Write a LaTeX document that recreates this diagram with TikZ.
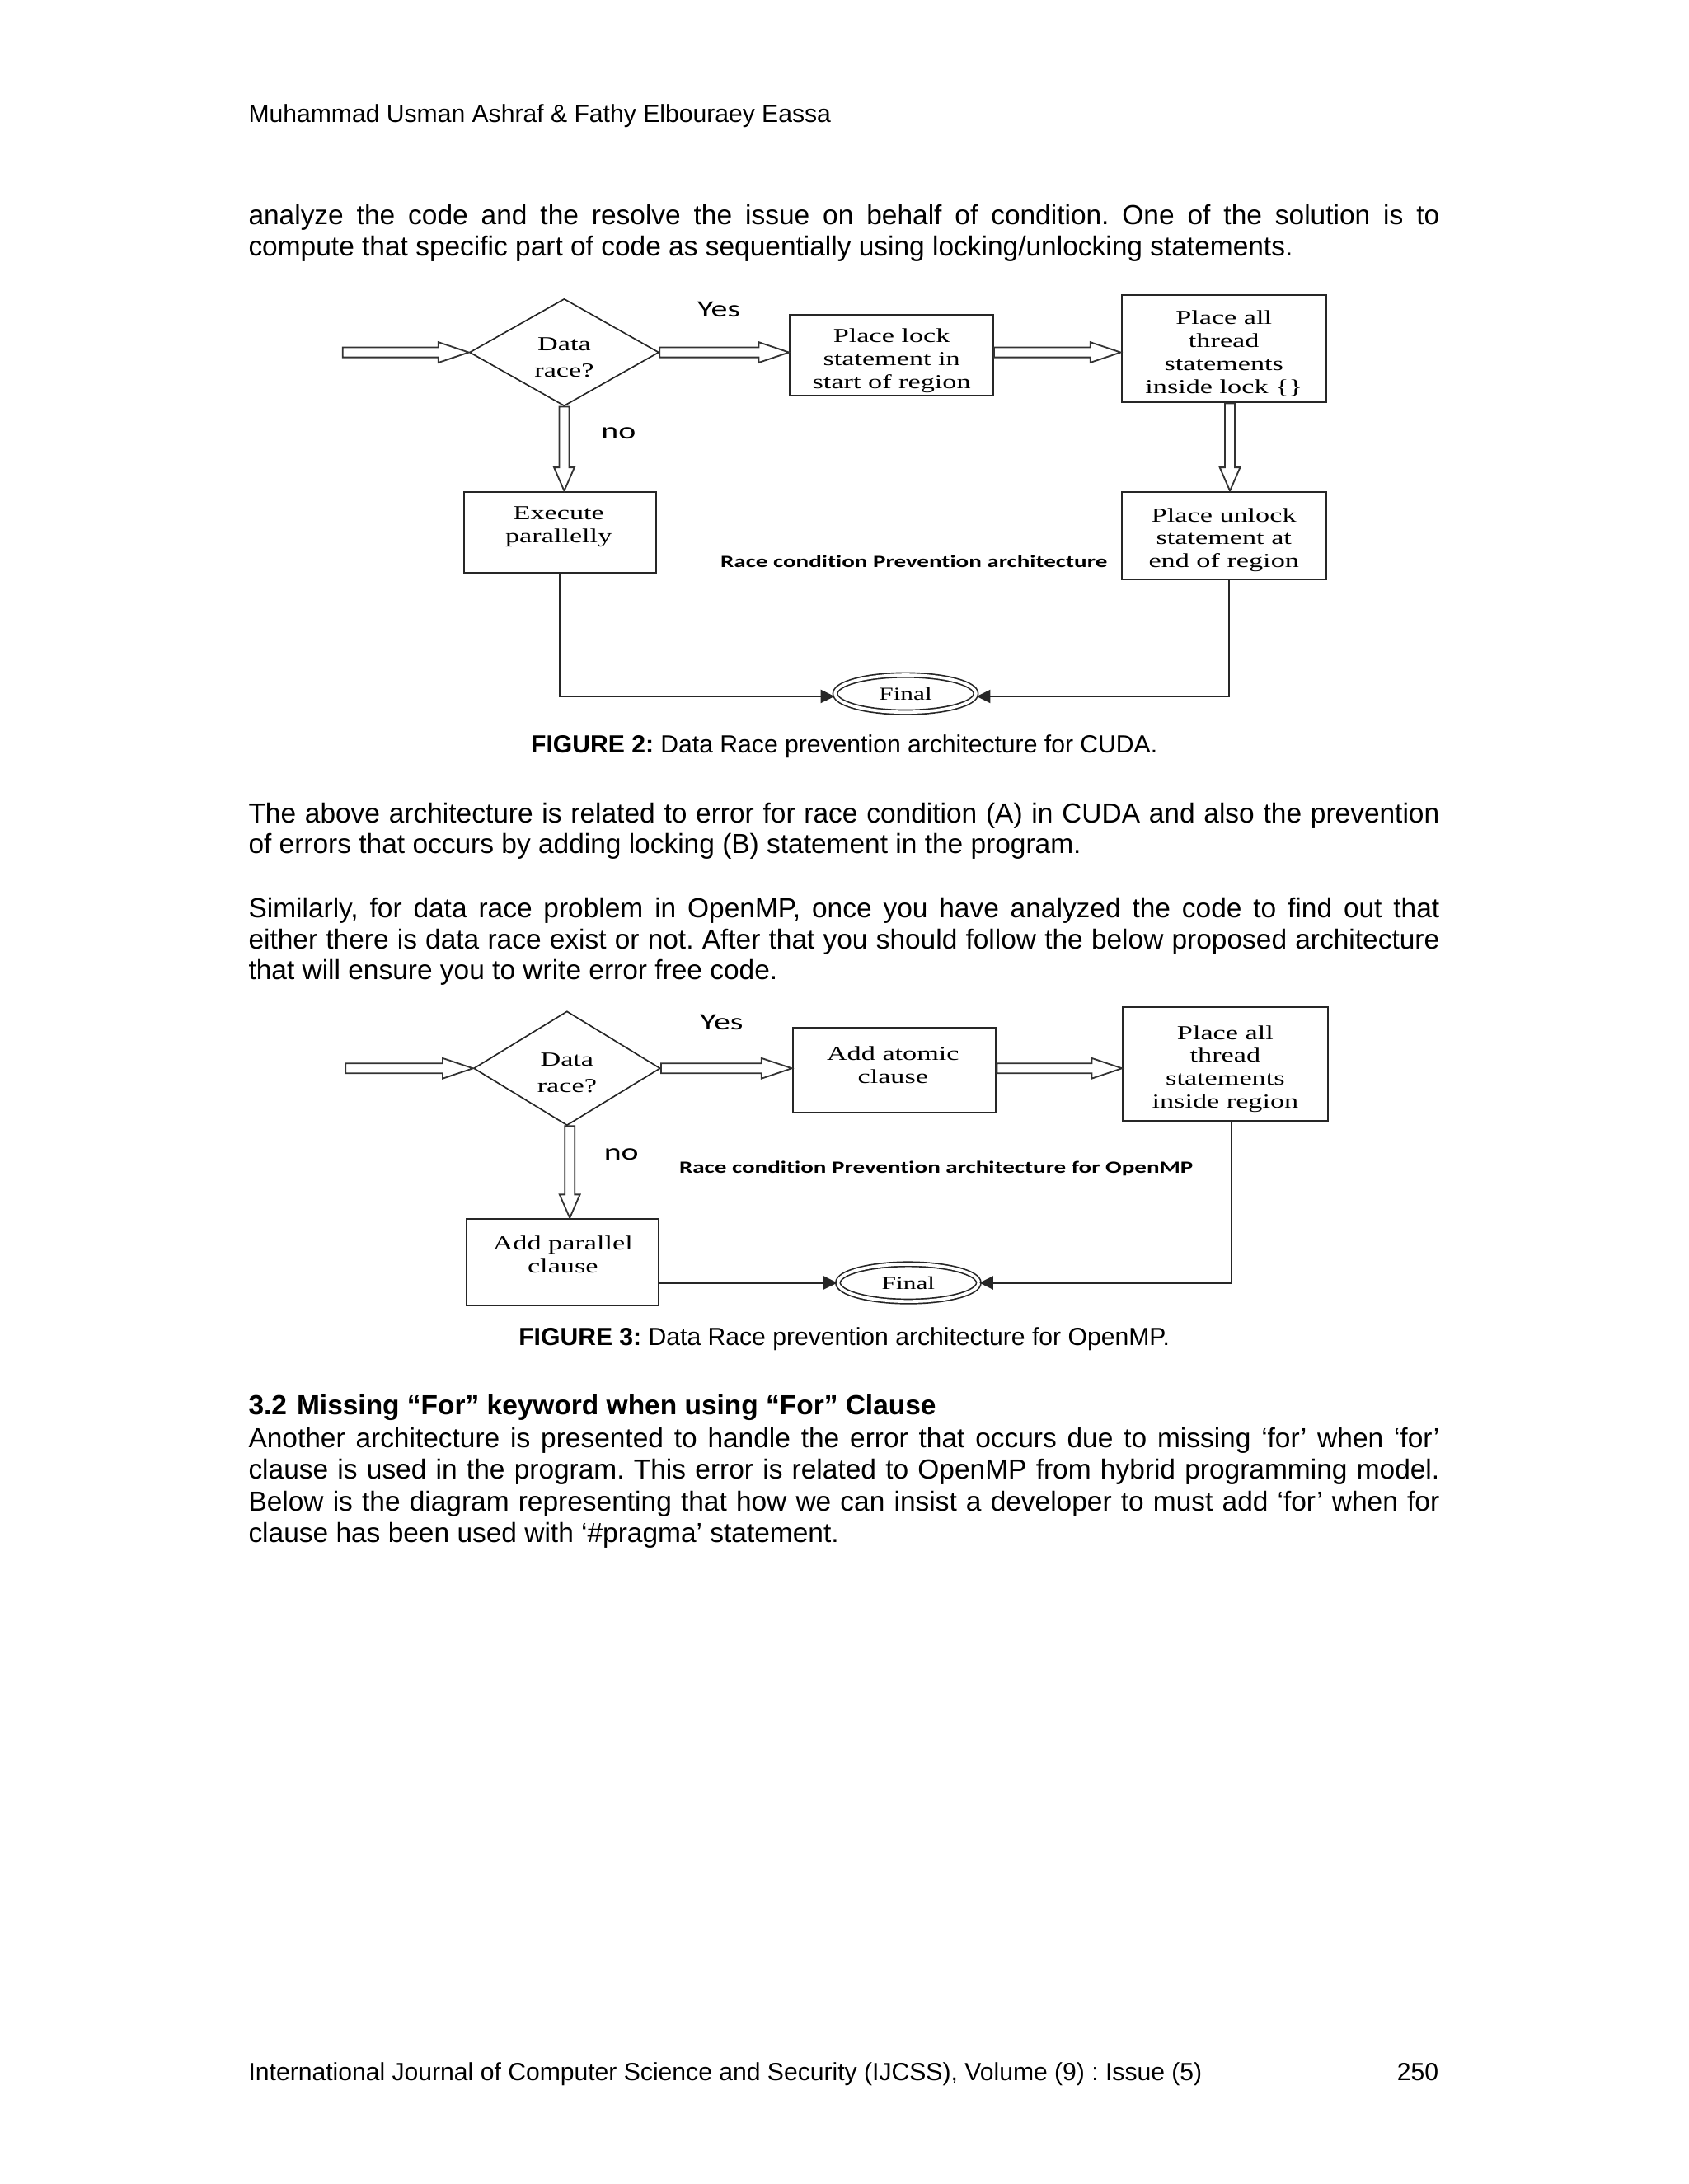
\documentclass[tikz,border=0pt]{standalone}
\usepackage{fontspec}
\setmainfont{Liberation Sans}
\newfontfamily\dserif[FakeStretch=1.42]{Liberation Serif}
\newfontfamily\dsans[FakeStretch=1.4,Ligatures=NoCommon]{Carlito}
\usetikzlibrary{shapes.geometric,arrows.meta,calc}
\def\uu{0.50495pt}
\newcommand{\jline}[1]{\makebox[431.7pt][s]{#1}}
\frenchspacing
\tikzset{
  body/.style={anchor=base west,inner sep=0pt,font=\fontsize{10}{12}\selectfont},
  small/.style={anchor=base west,inner sep=0pt,font=\fontsize{9}{11}\selectfont},
  capt/.style={anchor=base,inner sep=0pt,font=\fontsize{9}{11}\selectfont},
  box/.style={draw=black!85,line width=0.6pt,inner sep=0pt},
  boxtxt/.style={inner sep=0pt,align=center,font=\dserif\fontsize{7.2}{8.3}\selectfont},
  diam/.style={diamond,draw=black!85,line width=0.5pt,inner sep=0pt,aspect=1.77},
  diamtxt/.style={inner sep=0pt,align=center,font=\dserif\fontsize{7.2}{9.6}\selectfont},
  fin/.style={ellipse,draw=black!85,double,double distance=1.1pt,line width=0.5pt,inner sep=0pt,
    minimum width=51pt,minimum height=13.5pt,font=\dserif\fontsize{6.6}{8}\selectfont},
  lbl/.style={inner sep=0pt,font=\dsans\fontsize{8.5}{10}\selectfont},
  rlbl/.style={inner sep=0pt,font=\dsans\bfseries\fontsize{6.2}{7}\selectfont},
  line/.style={draw=black!85,line width=0.6pt},
  tip/.style={-{Triangle[length=5pt,width=4.8pt]}},
  hollow/.style={draw=black!80,line width=0.55pt,fill=white},
  hright/.style={to path={let \p1=(\tikztostart), \p2=(\tikztotarget) in
    ({\x1},{\y1+1.8pt}) -- ({\x2-11pt},{\y1+1.8pt}) -- ({\x2-11pt},{\y1+3.7pt}) -- ({\x2},{\y1})
    -- ({\x2-11pt},{\y1-3.7pt}) -- ({\x2-11pt},{\y1-1.8pt}) -- ({\x1},{\y1-1.8pt}) -- cycle}},
  hdown/.style={to path={let \p1=(\tikztostart), \p2=(\tikztotarget) in
    ({\x1-1.8pt},{\y1}) -- ({\x1-1.8pt},{\y2+8.5pt}) -- ({\x1-3.7pt},{\y2+8.5pt}) -- ({\x1},{\y2})
    -- ({\x1+3.7pt},{\y2+8.5pt}) -- ({\x1+1.8pt},{\y2+8.5pt}) -- ({\x1+1.8pt},{\y1}) -- cycle}}
}
\begin{document}
\begin{tikzpicture}[x=0.50495pt,y=-0.50495pt]
\useasboundingbox[fill=white] (0,0) rectangle (1212,1568);

% ---- page text ----
\node[small] (hdr) at (178,87.8) {Muhammad Usman Ashraf \& Fathy Elbouraey Eassa};
\node[body] (p1a) at (178,161.4) {\jline{analyze the code and the resolve the issue on behalf of condition. One of the solution is to}};
\node[body] (p1b) at (178,183.5) {compute that specific part of code as sequentially using locking/unlocking statements.};
\node[capt] (cap2) at (606,540.5) {\textbf{FIGURE 2:} Data Race prevention architecture for CUDA.};
\node[body] (p2a) at (178,590.8) {\jline{The above architecture is related to error for race condition (A) in CUDA and also the prevention}};
\node[body] (p2b) at (178,612.9) {of errors that occurs by adding locking (B) statement in the program.};
\node[body] (p3a) at (178,658.8) {\jline{Similarly, for data race problem in OpenMP, once you have analyzed the code to find out that}};
\node[body] (p3b) at (178,681.2) {\jline{either there is data race exist or not. After that you should follow the below proposed architecture}};
\node[body] (p3c) at (178,703.2) {that will ensure you to write error free code.};
\node[capt] (cap3) at (606,966) {\textbf{FIGURE 3:} Data Race prevention architecture for OpenMP.};
\node[body,font=\bfseries\fontsize{10}{12}\selectfont] (sec) at (178,1015.5) {3.2\hspace{3.6pt}Missing “For” keyword when using “For” Clause};
\node[body] (p4a) at (178,1039.2) {\jline{Another architecture is presented to handle the error that occurs due to missing ‘for’ when ‘for’}};
\node[body] (p4b) at (178,1062) {\jline{clause is used in the program. This error is related to OpenMP from hybrid programming model.}};
\node[body] (p4c) at (178,1084.8) {\jline{Below is the diagram representing that how we can insist a developer to must add ‘for’ when for}};
\node[body] (p4d) at (178,1107.6) {clause has been used with ‘\#pragma’ statement.};
\node[small] (ftr) at (178,1493.5) {International Journal of Computer Science and Security (IJCSS), Volume (9) : Issue (5)};
\node[small,anchor=base east] (pg) at (1033,1493.5) {250};

% ---- figure 2 ----
\coordinate (in1) at (246,253);
\node[diam,minimum width=136*\uu,minimum height=77*\uu] (d1) at (405,253) {};
\node[diamtxt] (d1t) at (405,256.5) {Data\\race?};
\node[box,minimum width=146*\uu,minimum height=58*\uu] (pl) at (640,255) {};
\node[boxtxt] (plt) at (640,259) {Place lock\\statement in\\start of region};
\node[box,minimum width=147*\uu,minimum height=77*\uu] (pa) at (878.5,250.5) {};
\node[boxtxt] (pat) at (878.5,253.7) {Place all\\thread\\statements\\inside lock \{\}};
\node[box,minimum width=147*\uu,minimum height=63*\uu] (pu) at (878.5,384.5) {};
\node[boxtxt] (put) at (878.5,387.7) {Place unlock\\statement at\\end of region};
\node[box,minimum width=138*\uu,minimum height=58*\uu] (ex) at (402,382) {};
\node[boxtxt] (ext) at (401,378) {Execute\\parallelly};
\node[fin] (f1) at (650,498) {Final};
\node[lbl] (yes1) at (516,222) {Yes};
\node[lbl] (no1) at (444,311) {no};
\node[rlbl] (rc1) at (656,403) {Race condition Prevention architecture};

\draw[hollow] (in1) to[hright] (d1.west);
\draw[hollow] (d1.east) to[hright] (pl.west |- d1.east);
\draw[hollow] (pl.east |- d1.east) to[hright] (pa.west |- d1.east);
\draw[hollow] (d1.south) to[hdown] (d1.south |- ex.north);
\draw[hollow] ([xshift=2.2pt]pa.south) to[hdown] ([xshift=2.2pt]pa.south |- pu.north);
\draw[line,tip] (ex.south) |- ([yshift=-1pt]f1.west);
\draw[line,tip] ([xshift=1.8pt]pu.south) |- ([yshift=-1pt]f1.east);

% ---- figure 3 ----
\coordinate (in2) at (248,767);
\node[diam,minimum width=134*\uu,minimum height=82*\uu] (d2) at (407,767) {};
\node[diamtxt] (d2t) at (407,770.5) {Data\\race?};
\node[box,minimum width=146*\uu,minimum height=61*\uu] (aa) at (642,768.5) {};
\node[boxtxt] (aat) at (641,764.5) {Add atomic\\clause};
\node[box,minimum width=147*\uu,minimum height=82*\uu] (pb) at (879.5,764) {};
\node[boxtxt] (pbt) at (879.5,767.5) {Place all\\thread\\statements\\inside region};
\node[box,minimum width=138*\uu,minimum height=62*\uu] (ap) at (404,906) {};
\node[boxtxt] (apt) at (404,900.5) {Add parallel\\clause};
\node[fin] (f2) at (652,921) {Final};
\node[lbl] (yes2) at (518,734) {Yes};
\node[lbl] (no2) at (446,829) {no};
\node[rlbl] (rc2) at (672,839) {Race condition Prevention architecture for OpenMP};

\draw[hollow] (in2) to[hright] (d2.west);
\draw[hollow] (d2.east) to[hright] (aa.west |- d2.east);
\draw[hollow] (aa.east |- d2.east) to[hright] (pb.west |- d2.east);
\draw[hollow] ([xshift=1pt]d2.south) to[hdown] ([xshift=1pt]d2.south |- ap.north);
\draw[line,tip] (ap.east |- f2.west) -- (f2.west);
\draw[line,tip] ([xshift=2.2pt]pb.south) |- (f2.east);
\end{tikzpicture}
\end{document}
